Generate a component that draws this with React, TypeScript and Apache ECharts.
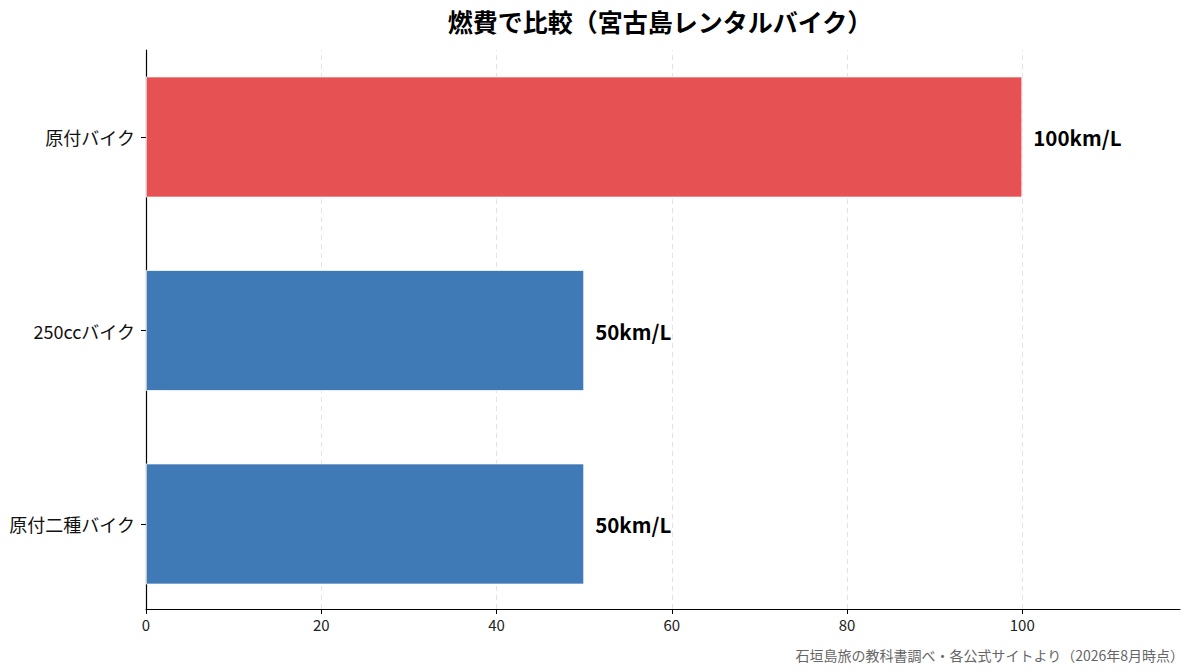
import React, { useEffect, useRef } from "react";
import * as echarts from "echarts";

const categories = ["原付バイク", "250ccバイク", "原付二種バイク"];
const values = [100, 50, 50];
const barColors = ["#E65253", "#3F7AB6", "#3F7AB6"];
const xTicks = [0, 20, 40, 60, 80, 100];
const gridTicks = [20, 40, 60, 80, 100];
const titleText = "燃費で比較（宮古島レンタルバイク）";
const footerText = "石垣島旅の教科書調べ・各公式サイトより（2026年8月時点）";
const unit = "km/L";

const FONT = "'Noto Sans CJK JP', 'Noto Sans', sans-serif";

export default function App() {
  const ref = useRef<HTMLDivElement>(null);
  useEffect(() => {
    document.body.style.margin = "0";
    const chart = echarts.init(ref.current!, null, { renderer: "svg" });
    const W = 1193, H = 672;
    const left = 146, right = W - 1180;
    const axTop = 50, axBottom = H - 609;
    const band = 193.5;
    const center0 = 137;
    const barTop = center0 - band / 2;
    const barBottom = H - (barTop + band * 3);
    chart.setOption({
      animation: false,
      textStyle: { fontFamily: FONT },
      grid: [
        { left, right, top: barTop, bottom: barBottom, containLabel: false },
        { left, right, top: axTop, bottom: axBottom, containLabel: false },
      ],
      xAxis: [
        { gridIndex: 0, type: "value", min: 0, max: 118, show: false },
        {
          gridIndex: 1,
          type: "value",
          min: 0,
          max: 118,
          interval: 20,
          axisLine: { show: true, lineStyle: { color: "#000", width: 1.2 } },
          axisTick: { show: true, length: 5, lineStyle: { color: "#000" }, customValues: xTicks },
          axisLabel: {
            customValues: xTicks,
            color: "#222",
            fontSize: 15,
            margin: 8,
            fontFamily: FONT,
          },
          splitLine: { show: false },
        },
      ],
      yAxis: [
        {
          gridIndex: 0,
          type: "category",
          data: categories,
          inverse: true,
          axisLine: { show: false },
          axisTick: { show: true, length: 5, alignWithLabel: true, lineStyle: { color: "#000" } },
          axisLabel: { color: "#111", fontSize: 18, margin: 11, fontFamily: FONT },
        },
        {
          gridIndex: 1,
          type: "value",
          min: 0,
          max: 1,
          axisLine: { show: true, lineStyle: { color: "#000", width: 1.2 } },
          axisTick: { show: false },
          axisLabel: { show: false },
          splitLine: { show: false },
        },
      ],
      series: [
        {
          type: "line",
          xAxisIndex: 1,
          yAxisIndex: 1,
          data: [],
          z: 1,
          silent: true,
          markLine: {
            z: 1,
            symbol: "none",
            silent: true,
            label: { show: false },
            lineStyle: { color: "#e3e3e3", type: [5, 4], width: 1 },
            data: gridTicks.map((v) => ({ xAxis: v })),
          },
        },
        {
          type: "bar",
          xAxisIndex: 0,
          yAxisIndex: 0,
          z: 10,
          barWidth: 121,
          data: values.map((v, i) => ({
            value: v,
            itemStyle: { color: barColors[i], borderColor: "#fff", borderWidth: 0.8 },
          })),
          label: {
            show: true,
            position: "right",
            distance: 11,
            formatter: (p: any) => `${p.value}${unit}`,
            color: "#000",
            fontSize: 20.5,
            fontWeight: "bold",
            fontFamily: FONT,
          },
        },
      ],
      graphic: [
        {
          type: "text",
          x: 660,
          y: 21,
          style: {
            text: titleText,
            align: "center",
            verticalAlign: "middle",
            fill: "#000",
            font: `bold 25px ${FONT}`,
          },
        },
        {
          type: "text",
          x: 1184,
          y: 655,
          style: {
            text: footerText,
            align: "right",
            verticalAlign: "middle",
            fill: "#666",
            font: `14px ${FONT}`,
          },
        },
      ],
    });
    return () => chart.dispose();
  }, []);
  return <div ref={ref} style={{ width: 1193, height: 672 }} />;
}
